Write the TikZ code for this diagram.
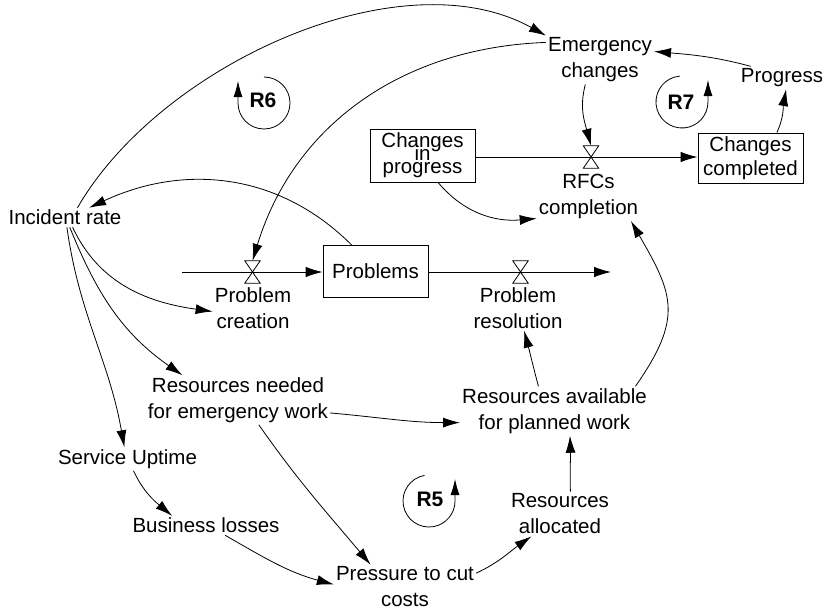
\documentclass[tikz,border=0pt]{standalone}
\usepackage{fontspec}
\setmainfont{Liberation Sans}
\usetikzlibrary{arrows.meta}
% lets stacked lines overlap when the baseline skip is smaller than the glyphs
\newcommand\tightstack{\setlength{\lineskiplimit}{-50pt}\setlength{\lineskip}{0pt}}
\begin{document}
\begin{tikzpicture}[x=1pt,y=1pt,
  every node/.style={font=\fontsize{20.5}{26}\selectfont},
  lbl/.style={align=center, inner sep=2pt},
  stock/.style={draw, line width=0.9pt, align=center, inner sep=0pt},
  valve/.style={inner sep=0pt, minimum width=15pt, minimum height=22pt},
  link/.style={line width=0.8pt, -{Latex[length=17pt,width=10pt]}},
  flow/.style={line width=0.9pt, -{Latex[length=17pt,width=10.5pt]}},
  loopmark/.style={font=\fontsize{21}{21}\selectfont\bfseries},
  loopline/.style={line width=0.8pt, -{Latex[length=16pt,width=9pt]}}
]
\useasboundingbox (0,0) rectangle (822,-613);

% stocks
\node[stock, minimum width=105pt, minimum height=53pt,
      font={\fontsize{20.5}{13}\selectfont\tightstack}] (cip) at (422.5,-155.5) {Changes\\in\\progress};
\node[stock, minimum width=105pt, minimum height=50pt,
      font=\fontsize{20.5}{24}\selectfont] (ccomp) at (750.5,-158) {Changes\\completed};
\node[stock, minimum width=105pt, minimum height=52pt] (prob) at (375.5,-271.5) {Problems};

% valves
\node[valve] (pcv) at (252.5,-272) {};
\node[valve] (prv) at (520.5,-272) {};
\node[valve] (rfcv) at (591,-157) {};

% auxiliaries
\node[lbl] (inc) at (65,-217.5) {Incident rate};
\node[lbl] (emg) at (600,-60) {Emergency\\changes};
\node[lbl] (prog) at (782,-77.7) {Progress};
\node[lbl] (pcl) at (253,-308) {Problem\\creation};
\node[lbl] (prl) at (518,-308) {Problem\\resolution};
\node[lbl] (rfcl) at (588.5,-196.5) {RFCs\\completion};
\node[lbl] (rne) at (238,-400) {Resources needed\\for emergency work};
\node[lbl] (rav) at (554.5,-411) {Resources available\\for planned work};
\node[lbl] (svc) at (127.5,-459) {Service Uptime};
\node[lbl] (bl) at (206,-525.5) {Business losses};
\node[lbl] (pcc) at (405,-587) {Pressure to cut\\costs};
\node[lbl] (ral) at (560,-514) {Resources\\allocated};

% loop markers
\node[loopmark] (r6) at (263,-100) {R6};
\node[loopmark] (r7) at (681,-102) {R7};
\node[loopmark] (r5) at (430,-499) {R5};
\draw[loopline] (264,-77) arc[start angle=90, end angle=-180, radius=26] -- ++(0,22);
\draw[loopline] (679.7,-76.1) arc[start angle=95, end angle=360, radius=26] -- ++(0,22);
\draw[loopline] (424.5,-475.4) arc[start angle=100, end angle=360, radius=26] -- ++(0,22);

% flows
\coordinate (src) at (182,-272);
\coordinate (snk) at (611,-272);
\draw[flow] (src) -- (src -| prob.west);
\draw[flow] (prob.east |- prv) -- (snk);
\draw[flow] (cip.east |- rfcv) -- (ccomp.west |- rfcv);
\foreach \v in {pcv,prv,rfcv}
  \draw[line width=0.8pt, fill=white] (\v.north west) -- (\v.north east)
     -- (\v.south west) -- (\v.south east) -- cycle;

% causal links
\draw[link] (inc.38) to[out=60, in=151, looseness=0.85] (emg.north west);
\draw[link] (emg.239) to[out=255, in=105] (rfcv.north);
\draw[link] (emg.162) to[out=182, in=73] (pcv.north);
\draw[link] (prob.132) to[out=135, in=25] (inc.22);
\draw[link] (inc.-52) to[out=-65, in=172] (pcl.185);
\draw[link] (inc.-64) to[out=-68, in=145] (rne.156);
\draw[link] (inc.-79) to[out=-82, in=100] (svc.105);
\draw[link] (svc.-63) to[out=-65, in=140] (bl.164);
\draw[link] (bl.-27) to[out=-30, in=165] (pcc.178);
\draw[link] (rne.-50) to[out=-55, in=130] (pcc.147);
\draw[link] (rne.-8) to[out=-5, in=180] (rav.187);
\draw[link] (pcc.11) to[out=25, in=215] (ral.218);
\draw[link] (ral.65) to[out=92, in=-88] (rav.-58);
\draw[link] (rav.123) to[out=105, in=-75] (prl.-75);
\draw[link] (rav.17) to[out=55, in=-60, looseness=1.3] (rfcl.-30);
\draw[link] (cip.-60) to[out=-50, in=185] (rfcl.203);
\draw[link] (ccomp.44) to[out=65, in=-100] (prog.-70);
\draw[link] (prog.160) to[out=165, in=-5] (emg.9);
\end{tikzpicture}
\end{document}
